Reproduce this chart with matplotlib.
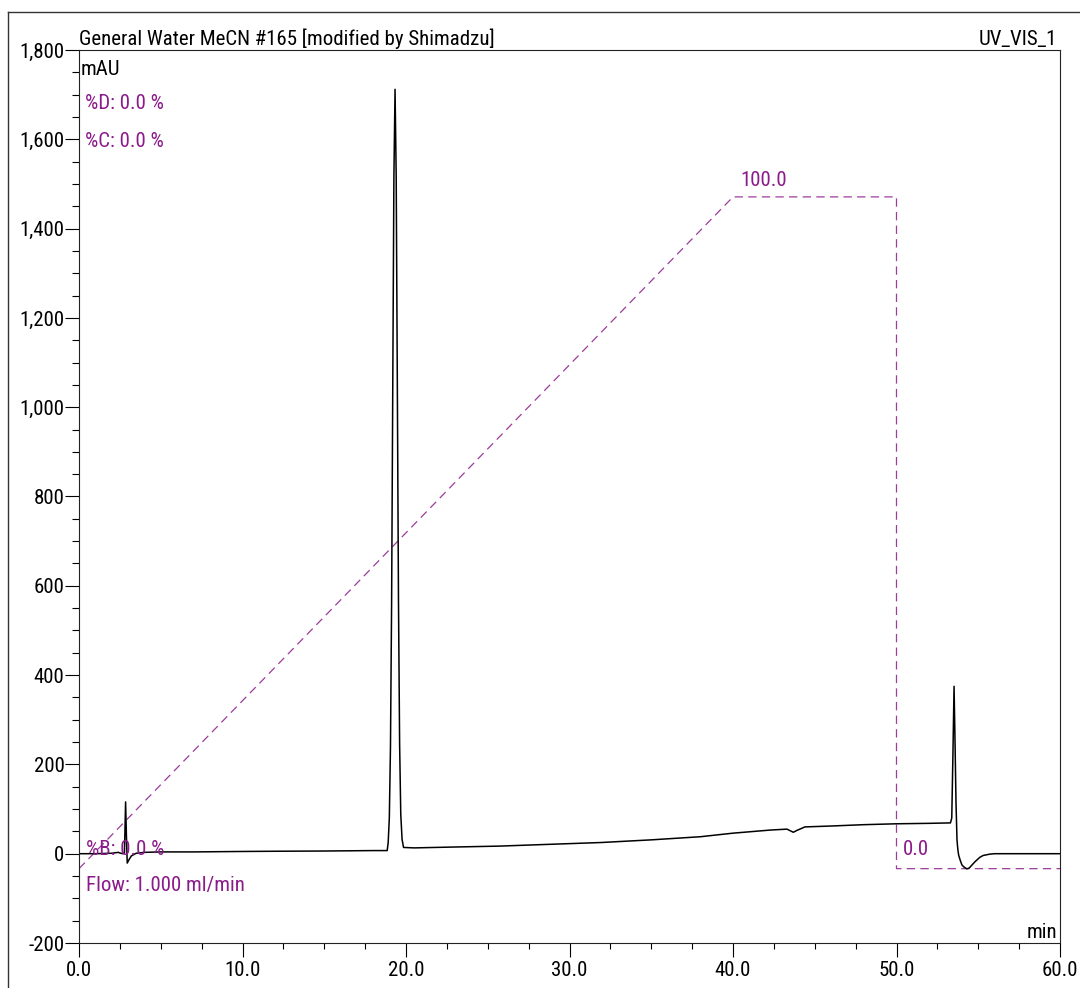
import matplotlib
matplotlib.use("Agg")
import matplotlib.pyplot as plt
from matplotlib.ticker import MultipleLocator, FuncFormatter
from matplotlib.lines import Line2D
from matplotlib import font_manager

# ---------------- data ----------------
time_min = [0.0, 1.0, 2.0, 2.4, 2.55, 2.7, 2.78, 2.85, 2.9, 2.95, 3.05, 3.2, 3.5,
            4.0, 5.0, 7.0, 10.0, 12.0, 15.0, 18.0,
            18.85, 18.91, 18.98, 19.05, 19.12, 19.19, 19.26, 19.33, 19.40, 19.47,
            19.54, 19.61, 19.68, 19.76, 19.85,
            20.5, 23.0, 25.7, 28.0, 31.9, 35.0, 38.0, 40.0, 42.3, 43.3, 43.69, 43.9,
            44.4, 46.0, 48.0, 50.0, 52.0, 53.3,
            53.38, 53.45, 53.52, 53.58, 53.64, 53.7, 53.75, 53.8, 53.9, 54.0, 54.1,
            54.3, 54.45, 54.6, 54.8, 55.1, 55.3, 55.7, 56.0, 56.5, 60.0]
signal_mAU = [0, 0, 1, 3, 1, 0, 2, 116, 40, -21, -14, -5, 1,
              3, 4, 4, 5, 5.5, 6, 7,
              7, 25, 80, 238, 562, 1044, 1516, 1712, 1520, 1050,
              568, 245, 88, 32, 14,
              13, 15, 17, 20, 25, 31, 38, 46, 53, 55, 48, 52,
              60, 62, 65, 67, 68, 69,
              80, 220, 375, 250, 113, 31, 10, -3, -15, -25, -29,
              -34, -32, -26, -18, -8, -4, -1, 0, 0, 0]

grad_time = [0.0, 40.0, 50.0, 50.0, 60.0]
grad_B = [0.0, 100.0, 100.0, 0.0, 0.0]
grad_zero_mAU = -33.5
grad_full_mAU = 1471.0

x_ticks = [0, 10, 20, 30, 40, 50, 60]
y_ticks = [-200, 0, 200, 400, 600, 800, 1000, 1200, 1400, 1600, 1800]

title_left = "General Water MeCN #165 [modified by Shimadzu]"
title_right = "UV_VIS_1"

# ---------------- style ----------------
available = {f.name for f in font_manager.fontManager.ttflist}
narrow = [n for n in ['Liberation Sans Narrow', 'Roboto Condensed', 'Open Sans Condensed',
                      'Noto Sans Condensed'] if n in available]
if narrow:
    FONT = [narrow[0], 'DejaVu Sans']
    FS = 15
else:
    FONT = ['Liberation Sans', 'DejaVu Sans']
    FS = 13.3
plt.rcParams['font.family'] = FONT
plt.rcParams['lines.scale_dashes'] = False
PURPLE = '#8B1A8B'

W, H = 1080, 988
fig = plt.figure(figsize=(W / 100, H / 100), dpi=100)
L, R, T, B = 79, 1060, 50, 943
ax = fig.add_axes([L / W, 1 - B / H, (R - L) / W, (B - T) / H])

ax.set_xlim(0, 60)
ax.set_ylim(-200, 1800)

grad_mAU = [grad_zero_mAU + b / 100.0 * (grad_full_mAU - grad_zero_mAU) for b in grad_B]
ax.plot(grad_time, grad_mAU, color=PURPLE, lw=0.9, dashes=(6, 3.8), alpha=0.85)
ax.plot(time_min, signal_mAU, color='black', lw=1.1)

ax.set_xticks(x_ticks)
ax.set_yticks(y_ticks)
ax.xaxis.set_minor_locator(MultipleLocator(2.5))
ax.yaxis.set_minor_locator(MultipleLocator(50))
ax.xaxis.set_major_formatter(FuncFormatter(lambda v, p: f"{v:.1f}"))
ax.yaxis.set_major_formatter(FuncFormatter(lambda v, p: f"{int(v):,}"))
ax.tick_params(axis='x', which='major', length=10, width=0.8, pad=3, labelsize=FS)
ax.tick_params(axis='x', which='minor', length=4.5, width=0.8)
ax.tick_params(axis='y', which='major', length=10, width=0.8, pad=0.5, labelsize=FS)
ax.tick_params(axis='y', which='minor', length=5, width=0.8)
for s in ax.spines.values():
    s.set_linewidth(0.8)
    s.set_color('#222222')


def ftext(x, y, s, **kw):
    fig.text(x / W, 1 - y / H, s, fontsize=FS, va='baseline', **kw)


ftext(79, 45, title_left, ha='left')
ftext(1057, 45, title_right, ha='right')
ftext(81, 75, "mAU", ha='left')
ftext(85, 109, "%D: 0.0 %", ha='left', color=PURPLE)
ftext(85, 147, "%C: 0.0 %", ha='left', color=PURPLE)
ftext(86, 855, "%B: 0.0 %", ha='left', color=PURPLE)
ftext(86, 891, "Flow: 1.000 ml/min", ha='left', color=PURPLE)
ftext(740, 186, "100.0", ha='left', color=PURPLE)
ftext(903, 855, "0.0", ha='left', color=PURPLE)
ftext(1057, 938, "min", ha='right')

# outer frame
fig.add_artist(Line2D([8 / W, 1.0], [1 - 12 / H, 1 - 12 / H], transform=fig.transFigure,
                      color='#333333', lw=1))
fig.add_artist(Line2D([8 / W, 8 / W], [1 - 12 / H, 0.0], transform=fig.transFigure,
                      color='#333333', lw=1))

fig.savefig("out.png", dpi=100)
